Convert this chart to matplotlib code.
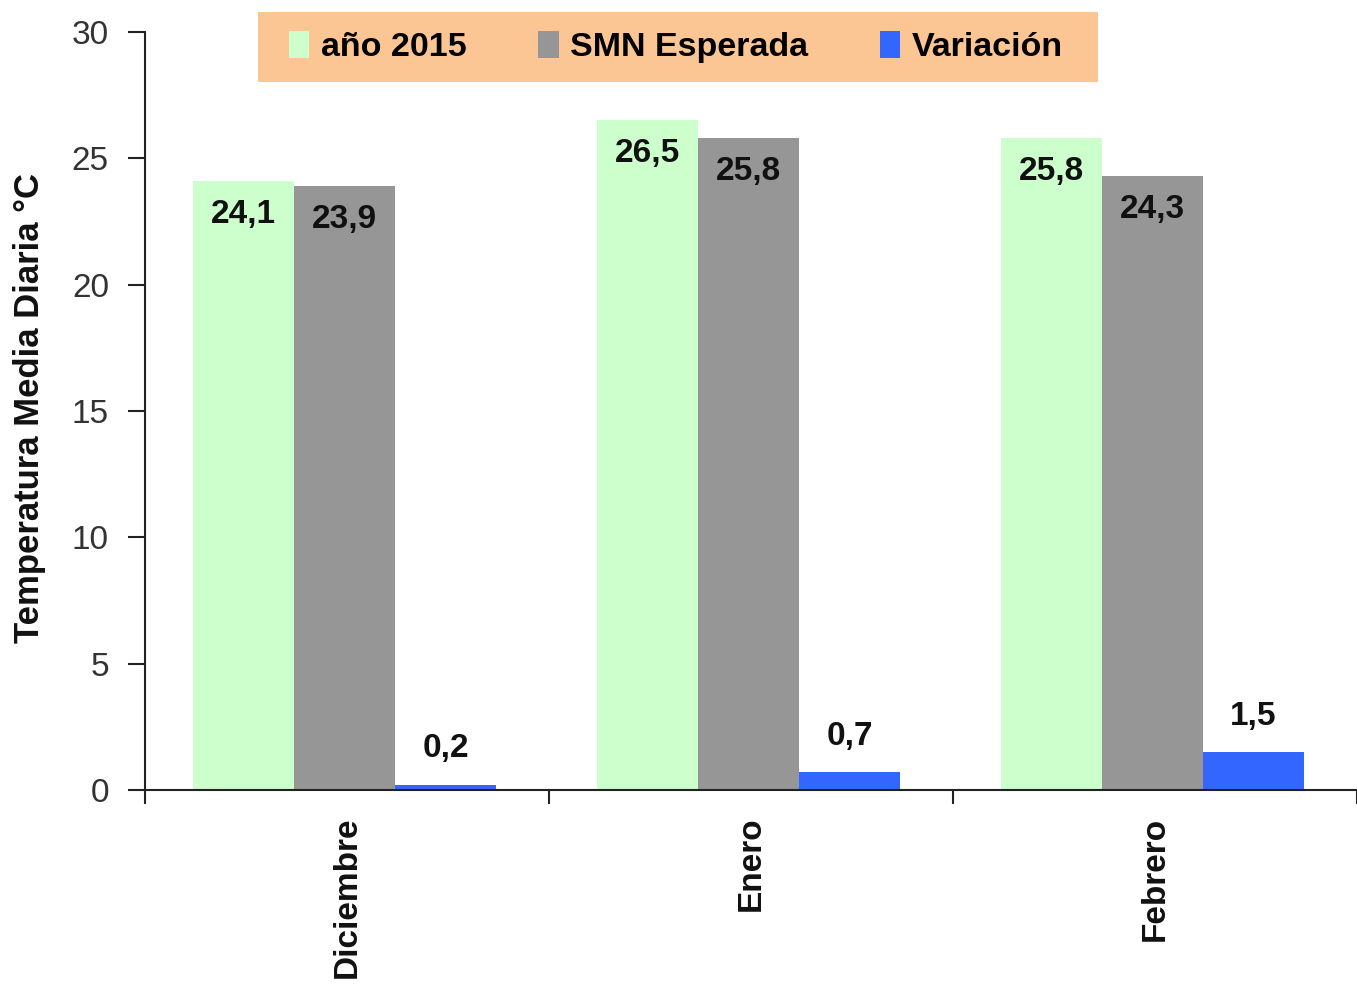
import matplotlib
matplotlib.use("Agg")
import matplotlib.pyplot as plt
import numpy as np
from matplotlib.patches import Patch, Rectangle

categories = ["Diciembre", "Enero", "Febrero"]
series_names = ["año 2015", "SMN Esperada", "Variación"]
anio_2015 = [24.1, 26.5, 25.8]
smn_esperada = [23.9, 25.8, 24.3]
variacion = [0.2, 0.7, 1.5]
yticks = [0, 5, 10, 15, 20, 25, 30]

colors = ["#CCFFCC", "#969696", "#3366FF"]

plt.rcParams['font.family'] = ['Liberation Sans', 'DejaVu Sans']

W, H = 1357, 984
fig = plt.figure(figsize=(W/100, H/100), dpi=100)
ax = fig.add_axes([145/W, 1 - 790/H, (W-145)/W, (790-32)/H])

x = np.arange(len(categories))
w = 0.25
series = [anio_2015, smn_esperada, variacion]
for i, (vals, c) in enumerate(zip(series, colors)):
    xs = x + (i - 1) * w - 0.006
    ax.bar(xs, vals, width=w, color=c, edgecolor='none', zorder=2)
    for xi, v in zip(xs, vals):
        lab = f"{v:.1f}".replace('.', ',')
        if i < 2:
            ax.annotate(lab, (xi, v), xytext=(0, -33), textcoords='offset pixels',
                        ha='center', va='center', fontsize=24, fontweight='bold', color='#111111')
        else:
            ax.annotate(lab, (xi, v), xytext=(0, 36), textcoords='offset pixels',
                        ha='center', va='center', fontsize=24, fontweight='bold', color='#111111')

ax.set_xlim(-0.5, 2.5)
ax.set_ylim(0, 30)
ax.set_yticks(yticks)
ax.set_yticklabels([str(t) for t in yticks], fontsize=24, color='#333333')
ax.tick_params(axis='y', direction='out', length=12, width=1.5, pad=14, color='#222222')

ax.set_xticks([-0.5, 0.5, 1.5, 2.5])
ax.set_xticklabels([])
ax.tick_params(axis='x', direction='out', length=10, width=1.5, color='#222222')
for xi, name in zip(x, categories):
    ax.text(xi, -1.05, name, rotation=90, ha='center', va='top', fontsize=24,
            fontweight='bold', color='#111111', transform=ax.transData)

for s in ['top', 'right']:
    ax.spines[s].set_visible(False)
for s in ['left', 'bottom']:
    ax.spines[s].set_linewidth(1.5)
    ax.spines[s].set_color('#222222')

fig.text(30/W, 1 - 408/H, "Temperatura Media Diaria °C", rotation=90,
         ha='center', va='center', fontsize=25, fontweight='bold', color='#111111')

# legend background box
fig.patches.append(Rectangle((258/W, 1 - 82/H), (1098-258)/W, (82-12)/H,
                             transform=fig.transFigure, facecolor='#FCC594',
                             edgecolor='none', zorder=5))

handles = [Patch(facecolor=c, edgecolor='none') for c in colors]
leg = fig.legend(handles, series_names, loc='center',
                 bbox_to_anchor=(676/W, 1 - 47/H), ncol=3,
                 prop={'size': 24.5, 'weight': 'bold'}, frameon=False,
                 handlelength=0.6, handleheight=0.85,
                 handletextpad=0.35, columnspacing=2.1, borderpad=0.2,
                 borderaxespad=0)
leg.set_zorder(6)

fig.savefig("out.png", dpi=100)
